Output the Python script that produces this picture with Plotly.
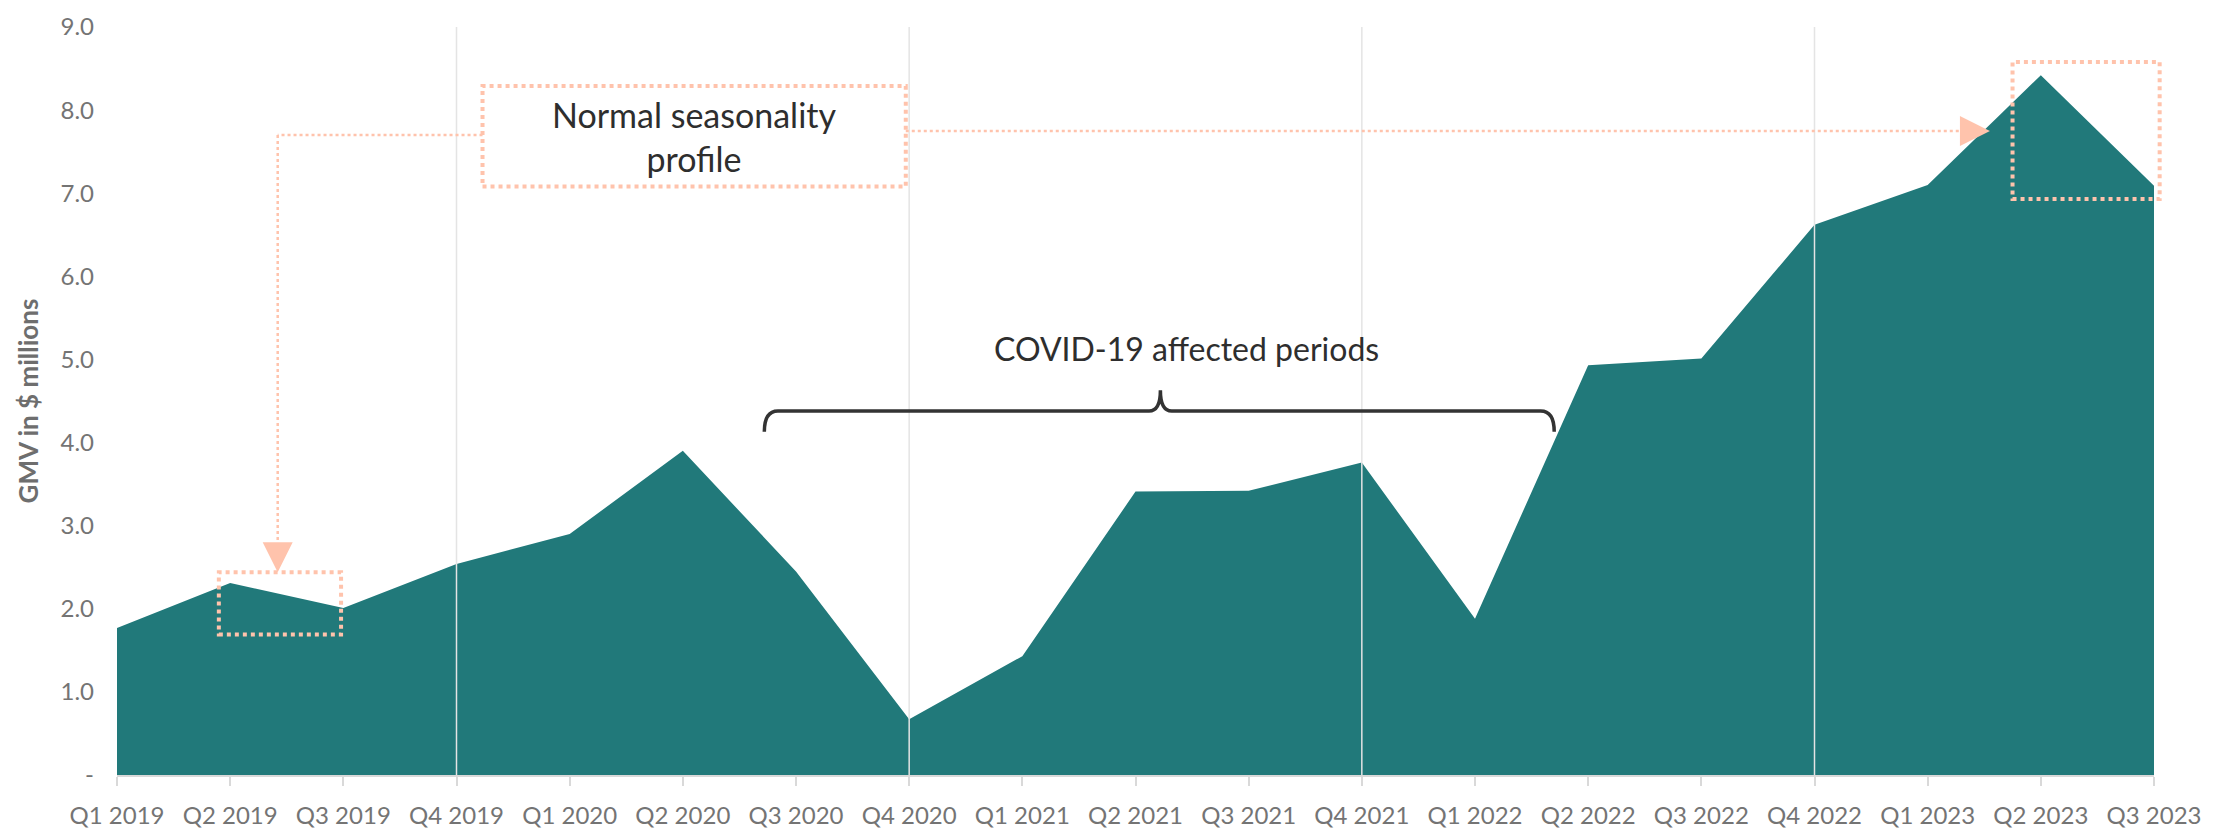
import plotly.graph_objects as go

quarters = ["Q1 2019", "Q2 2019", "Q3 2019", "Q4 2019",
            "Q1 2020", "Q2 2020", "Q3 2020", "Q4 2020",
            "Q1 2021", "Q2 2021", "Q3 2021", "Q4 2021",
            "Q1 2022", "Q2 2022", "Q3 2022", "Q4 2022",
            "Q1 2023", "Q2 2023", "Q3 2023"]
gmv = [1.77, 2.31, 2.01, 2.54,
       2.90, 3.90, 2.45, 0.67,
       1.43, 3.41, 3.42, 3.76,
       1.88, 4.93, 5.01, 6.62,
       7.10, 8.42, 7.09]
y_ticks = [0, 1, 2, 3, 4, 5, 6, 7, 8, 9]
y_labels = ["-", "1.0", "2.0", "3.0", "4.0", "5.0", "6.0", "7.0", "8.0", "9.0"]

x_idx = list(range(len(quarters)))
year_end_idx = [i for i, q in enumerate(quarters) if q.startswith("Q4")]

TEAL = "#21797A"
SALMON = "#FFC3AC"
DARK = "#2E2E2E"
GRAY = "#747474"
FONT = "Lato"

fig = go.Figure()
fig.add_trace(go.Scatter(
    x=x_idx, y=gmv, mode="none", fill="tozeroy", fillcolor=TEAL,
    hoverinfo="skip", showlegend=False,
))

shapes = []
# year-end vertical lines
for i in year_end_idx:
    shapes.append(dict(type="line", xref="x", yref="y", x0=i, x1=i, y0=0, y1=9,
                       line=dict(color="#E4E4E4", width=1.5), layer="above"))

dot_box = dict(color=SALMON, width=4, dash="dot")
dot_line = dict(color=SALMON, width=2.5, dash="dot")
# text box
shapes.append(dict(type="rect", xref="x", yref="y", x0=3.23, x1=6.97, y0=7.08, y1=8.29,
                   line=dot_box, layer="above"))
# small box around Q2-Q3 2019
shapes.append(dict(type="rect", xref="x", yref="y", x0=0.9, x1=1.98, y0=1.69, y1=2.44,
                   line=dot_box, layer="above"))
# big box around Q2-Q3 2023 (paper coords so it is not clipped)
shapes.append(dict(type="rect", xref="paper", yref="paper",
                   x0=16.75 / 18, x1=18.05 / 18, y0=6.93 / 9, y1=8.58 / 9,
                   line=dot_box, layer="above"))
# connectors
shapes.append(dict(type="line", xref="x", yref="y", x0=3.23, x1=1.42, y0=7.70, y1=7.70,
                   line=dot_line, layer="above"))
shapes.append(dict(type="line", xref="x", yref="y", x0=1.42, x1=1.42, y0=7.70, y1=2.62,
                   line=dot_line, layer="above"))
shapes.append(dict(type="line", xref="x", yref="y", x0=6.97, x1=16.42, y0=7.75, y1=7.75,
                   line=dot_line, layer="above"))
# brace
brace = ("M 5.72,4.13 Q 5.72,4.38 5.84,4.38 L 9.12,4.38 Q 9.22,4.38 9.22,4.63 "
         "Q 9.22,4.38 9.32,4.38 L 12.58,4.38 Q 12.70,4.38 12.70,4.13")
shapes.append(dict(type="path", xref="x", yref="y", path=brace,
                   line=dict(color="#333333", width=3.5), layer="above"))

annotations = [
    dict(x=5.10, y=7.68, xref="x", yref="y", text="Normal seasonality<br>profile",
         showarrow=False, font=dict(family=FONT, size=34, color=DARK), align="center"),
    dict(x=9.45, y=5.13, xref="x", yref="y", text="COVID-19 affected periods",
         showarrow=False, font=dict(family=FONT, size=32, color=DARK)),
    # arrowheads
    dict(x=1.42, y=2.44, xref="x", yref="y", ax=1.42, ay=2.64, axref="x", ayref="y",
         text="", showarrow=True, arrowhead=2, arrowsize=2.4, arrowwidth=2.5,
         arrowcolor=SALMON, standoff=0),
    dict(x=16.55, y=7.75, xref="x", yref="y", ax=16.35, ay=7.75, axref="x", ayref="y",
         text="", showarrow=True, arrowhead=2, arrowsize=2.4, arrowwidth=2.5,
         arrowcolor=SALMON, standoff=0),
]

fig.update_layout(
    width=2224, height=833,
    margin=dict(l=109, r=78, t=19, b=49),
    paper_bgcolor="white", plot_bgcolor="white",
    font=dict(family=FONT, color=GRAY),
    showlegend=False,
    shapes=shapes,
    annotations=annotations,
    xaxis=dict(
        range=[0, 18], tickmode="array", tickvals=x_idx, ticktext=quarters,
        showgrid=False, zeroline=False,
        showline=True, linecolor="#D9D9D9", linewidth=2,
        ticks="outside", ticklen=9, tickcolor="#D9D9D9", tickwidth=2,
        tickfont=dict(family=FONT, size=24, color=GRAY),
        ticklabelstandoff=9,
    ),
    yaxis=dict(
        range=[0, 9], tickmode="array", tickvals=y_ticks, ticktext=y_labels,
        showgrid=False, zeroline=False, showline=False, ticks="",
        tickfont=dict(family=FONT, size=24, color=GRAY),
        ticklabelstandoff=22,
        title=dict(text="<b>GMV in $ millions</b>", standoff=14,
                   font=dict(family=FONT, size=26, color="#6E6E6E")),
        automargin=False,
    ),
)

fig.write_html("out.html")
